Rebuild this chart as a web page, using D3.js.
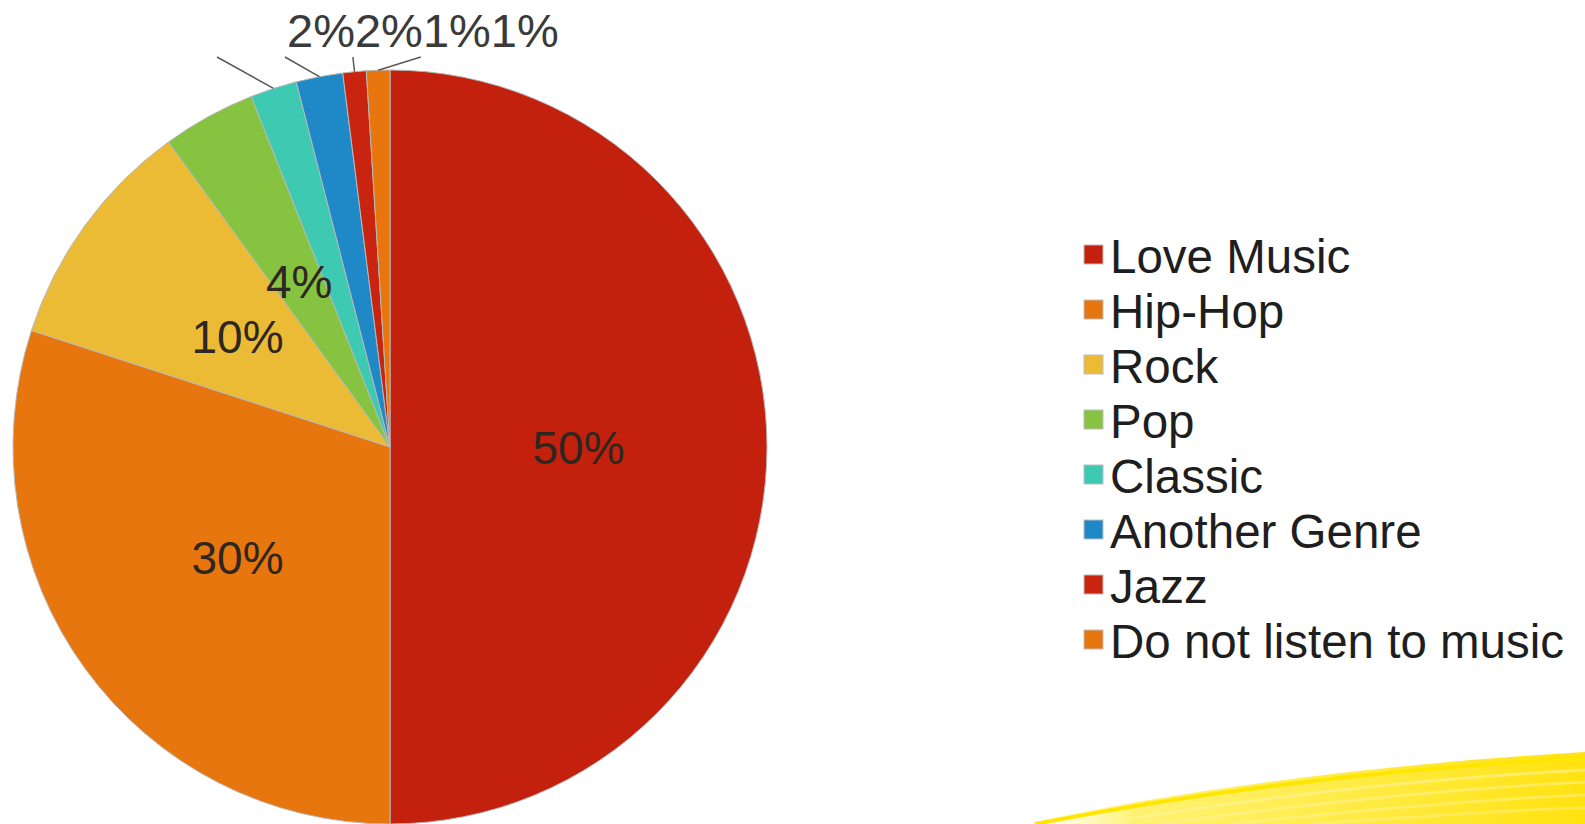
<!DOCTYPE html>
<html>
<head>
<meta charset="utf-8">
<script src="https://cdn.jsdelivr.net/npm/d3@7"></script>
<style>
	body { margin: 0; background: #fff; }
	svg { display: block; font-family: "Liberation Sans", Arial, sans-serif; }
</style>
</head>
<body>
<svg id="chart" width="1585" height="824"></svg>
<script>
'use strict';

var categories = ["Love Music", "Hip-Hop", "Rock", "Pop", "Classic", "Another Genre", "Jazz", "Do not listen to music"];
var values = [50, 30, 10, 4, 2, 2, 1, 1];
var sliceColors = ["#c4200e", "#e8760f", "#ecbb36", "#86c340", "#3dc9b2", "#1f88c6", "#c8240f", "#e8760f"];
// slices whose label sits above the pie with a leader line
var outsideSlices = ["Classic", "Another Genre", "Jazz", "Do not listen to music"];

var svg = d3.select("#chart");
var cx = 390, cy = 447, radius = 377;

// yellow swoosh in the bottom right corner (slide decoration)
var defs = svg.append("defs");
var grad = defs.append("linearGradient")
	.attr("id", "swoosh")
	.attr("x1", "0").attr("x2", "1").attr("y1", "0").attr("y2", "0");
grad.append("stop").attr("offset", "0").attr("stop-color", "#fff7b0").attr("stop-opacity", 0);
grad.append("stop").attr("offset", "0.2").attr("stop-color", "#ffef50").attr("stop-opacity", 0.8);
grad.append("stop").attr("offset", "1").attr("stop-color", "#ffe20f").attr("stop-opacity", 1);

var deco = svg.append("g");
deco.append("path")
	.attr("d", "M1020,824 Q1280,770 1585,752 L1585,824 Z")
	.attr("fill", "url(#swoosh)");
deco.append("path")
	.attr("d", "M1035,824 Q1290,774 1585,758")
	.attr("fill", "none")
	.attr("stroke", "#ffe600")
	.attr("stroke-width", 4);
[[1100, 784, 770, 0.6], [1160, 792, 782, 0.5], [1230, 800, 795, 0.45], [1310, 808, 808, 0.4]].forEach(function(s) {
	deco.append("path")
		.attr("d", "M" + s[0] + ",824 Q" + (s[0] + 230) + "," + s[1] + " 1585," + s[2])
		.attr("fill", "none")
		.attr("stroke", "#fff39a")
		.attr("stroke-width", 3)
		.attr("opacity", s[3]);
});

var data = categories.map(function(c, i) {
	return { name: c, value: values[i], color: sliceColors[i] };
});

var pie = d3.pie()
	.sort(null)
	.value(function(d) { return d.value; });

var arc = d3.arc()
	.innerRadius(0)
	.outerRadius(radius);

var arcs = pie(data);

var g = svg.append("g")
	.attr("transform", "translate(" + cx + "," + cy + ")");

g.selectAll("path.slice")
	.data(arcs)
	.enter()
	.append("path")
	.attr("class", "slice")
	.attr("d", arc)
	.attr("fill", function(d) { return d.data.color; })
	.attr("stroke", "#b8b8b8")
	.attr("stroke-width", 1);

// labels inside the slices
g.selectAll("text.inside")
	.data(arcs.filter(function(d) { return outsideSlices.indexOf(d.data.name) < 0; }))
	.enter()
	.append("text")
	.attr("class", "inside")
	.attr("transform", function(d) { return "translate(" + arc.centroid(d) + ")"; })
	.attr("text-anchor", "middle")
	.attr("dy", "0.36em")
	.attr("font-size", 46)
	.attr("fill", "#2e2620")
	.text(function(d) { return d.data.value + "%"; });

// labels above the pie, side by side, with leader lines
var outer = arcs.filter(function(d) { return outsideSlices.indexOf(d.data.name) >= 0; });
var labelX = 287;
outer.forEach(function(d) {
	var t = svg.append("text")
		.attr("x", labelX)
		.attr("y", 47)
		.attr("font-size", 47)
		.attr("fill", "#3a3a3a")
		.text(d.data.value + "%");
	var a = (d.startAngle + d.endAngle) / 2;
	svg.append("line")
		.attr("x1", cx + radius * Math.sin(a))
		.attr("y1", cy - radius * Math.cos(a))
		.attr("x2", labelX - 70)
		.attr("y2", 57)
		.attr("stroke", "#595959")
		.attr("stroke-width", 1.5);
	labelX += t.node().getComputedTextLength();
});

// legend
var legend = svg.append("g")
	.attr("transform", "translate(1084,273)");

var item = legend.selectAll("g")
	.data(data)
	.enter()
	.append("g")
	.attr("transform", function(d, i) { return "translate(0," + (i * 55) + ")"; });

item.append("rect")
	.attr("x", 0)
	.attr("y", -28)
	.attr("width", 19)
	.attr("height", 19)
	.attr("fill", function(d) { return d.color; })
	.attr("stroke", "#bdbdbd")
	.attr("stroke-width", 1);

item.append("text")
	.attr("x", 26)
	.attr("y", 0)
	.attr("font-size", 47.5)
	.attr("fill", "#1e1e1e")
	.text(function(d) { return d.name; });
</script>
</body>
</html>
